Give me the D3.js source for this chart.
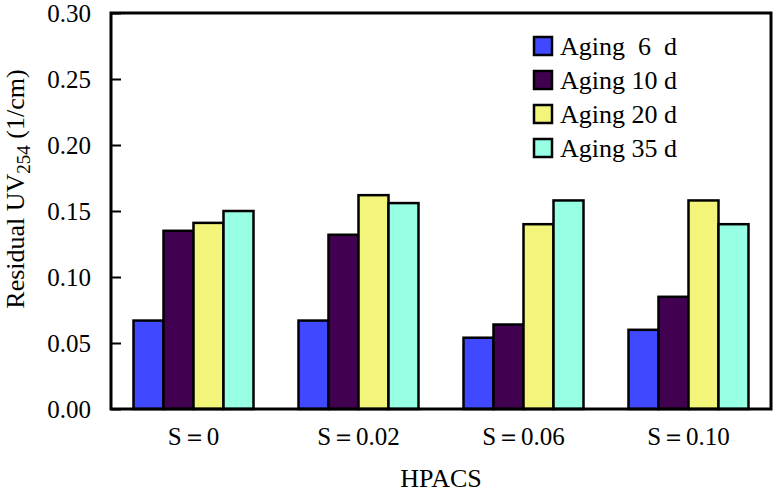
<!DOCTYPE html>
<html><head><meta charset="utf-8">
<script src="https://cdn.jsdelivr.net/npm/d3@7"></script>
<style>
body{margin:0;background:#fff;}
text{font-family:"Liberation Serif","Times New Roman",serif;fill:#000;}
</style></head>
<body><svg id="c" width="776" height="492"></svg>
<script>
const categories = ["S\uFF1D0", "S\uFF1D0.02", "S\uFF1D0.06", "S\uFF1D0.10"];
const seriesNames = ["Aging  6  d", "Aging 10 d", "Aging 20 d", "Aging 35 d"];
const aging6  = [0.067, 0.067, 0.054, 0.060];
const aging10 = [0.135, 0.132, 0.064, 0.085];
const aging20 = [0.141, 0.162, 0.140, 0.158];
const aging35 = [0.150, 0.156, 0.158, 0.140];
const yTicks = [0, 0.05, 0.10, 0.15, 0.20, 0.25, 0.30];
const colors = ["#4049FF", "#420050", "#F2F57A", "#96FFE4"];

const series = [aging6, aging10, aging20, aging35];
const svg = d3.select("#c");
const L = 111, R = 771, T = 13, B = 409;

const x0 = d3.scaleBand().domain(categories).range([L, R]).padding(0);
const x1 = d3.scaleBand().domain(d3.range(series.length)).range([0, x0.bandwidth()])
  .paddingInner(0).paddingOuter(0.75);
const y = d3.scaleLinear().domain([0, 0.30]).range([B, T]);

// bars
categories.forEach((c, ci) => {
  const g = svg.append("g").attr("transform", `translate(${x0(c)},0)`);
  series.forEach((s, si) => {
    g.append("rect")
      .attr("x", x1(si)).attr("width", x1.bandwidth())
      .attr("y", y(s[ci])).attr("height", y(0) - y(s[ci]))
      .attr("fill", colors[si]).attr("stroke", "#000").attr("stroke-width", 2.5);
  });
});

// y axis
const ya = svg.append("g").attr("transform", `translate(${L},0)`)
  .call(d3.axisLeft(y).tickValues(yTicks).tickFormat(d3.format(".2f"))
    .tickSizeInner(-10).tickSizeOuter(0).tickPadding(20));
ya.select(".domain").remove();
ya.selectAll("line").attr("stroke", "#000").attr("stroke-width", 2);
ya.selectAll("text").style("font-family", '"Liberation Serif",serif').style("font-size", "25px").attr("fill", "#000");

// x axis labels
const xa = svg.append("g").attr("transform", `translate(0,${B})`)
  .call(d3.axisBottom(x0).tickSize(0).tickPadding(18));
xa.select(".domain").remove();
xa.selectAll("text").style("font-family", '"Liberation Serif",serif').style("font-size", "25px").attr("fill", "#000");

// plot box
svg.append("rect").attr("x", L).attr("y", T).attr("width", R - L).attr("height", B - T)
  .attr("fill", "none").attr("stroke", "#000").attr("stroke-width", 3);

// axis titles
svg.append("text").attr("x", (L + R) / 2).attr("y", 487).attr("text-anchor", "middle")
  .style("font-size", "26px").text("HPACS");
const yt = svg.append("text").attr("transform", "translate(24,189) rotate(-90)")
  .attr("text-anchor", "middle").style("font-size", "26px");
yt.append("tspan").text("Residual UV");
yt.append("tspan").attr("dy", 6).style("font-size", "19px").text("254");
yt.append("tspan").attr("dy", -6).text(" (1/cm)");

// legend
const lg = svg.append("g");
seriesNames.forEach((n, i) => {
  const cy = 46 + i * 34;
  lg.append("rect").attr("x", 534).attr("y", cy - 9).attr("width", 18).attr("height", 18)
    .attr("fill", colors[i]).attr("stroke", "#000").attr("stroke-width", 2.5);
  lg.append("text").attr("x", 560).attr("y", cy + 9).style("font-size", "26px")
    .style("white-space", "pre").attr("xml:space", "preserve").text(n);
});
</script></body></html>
